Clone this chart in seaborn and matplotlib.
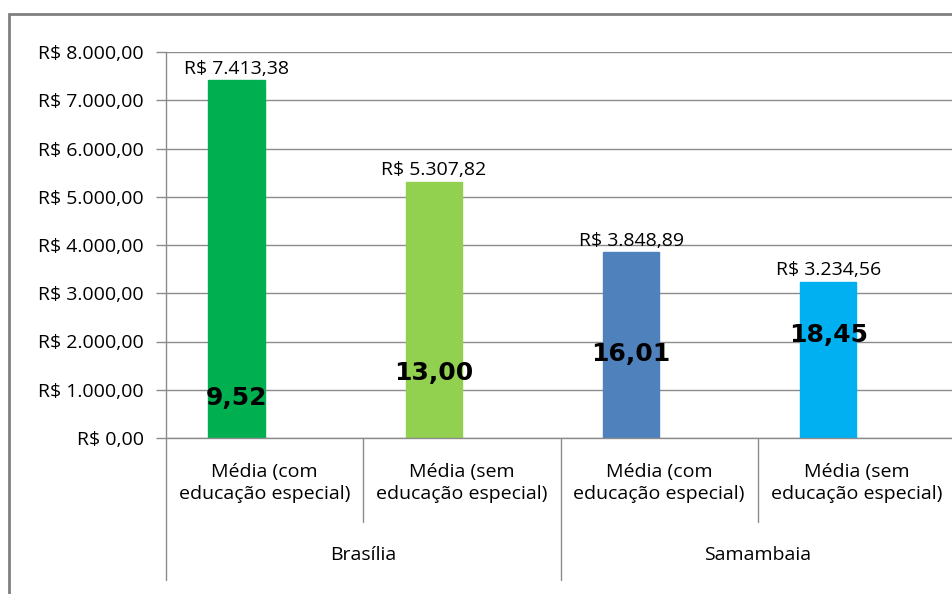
import matplotlib
matplotlib.use("Agg")
import matplotlib.pyplot as plt
from matplotlib.patches import Rectangle
from matplotlib.ticker import FuncFormatter
import matplotlib.transforms as mtransforms
import seaborn as sns
import pandas as pd

# Data
sub_labels = ["Média (com\neducação especial)", "Média (sem\neducação especial)",
              "Média (com\neducação especial)", "Média (sem\neducação especial)"]
groups = ["Brasília", "Samambaia"]
salario = [7413.38, 5307.82, 3848.89, 3234.56]
indice = ["9,52", "13,00", "16,01", "18,45"]
indice_y = [830, 1350, 1740, 2135]  # vertical placement of the index labels (data units)
bar_colors = ["#00B050", "#92D050", "#4F81BD", "#00B0F0"]
yticks = list(range(0, 8001, 1000))

sns.set_theme(style="white")
plt.rcParams["font.family"] = ["Open Sans", "DejaVu Sans"]

W, H = 952, 594
fig = plt.figure(figsize=(W / 100, H / 100), dpi=100)

# plot area in pixel coordinates
left_px, right_px, top_px, bottom_px = 166, 955, 52, 438
ax = fig.add_axes([left_px / W, 1 - bottom_px / H,
                   (right_px - left_px) / W, (bottom_px - top_px) / H])

# clustered columns: the salary series plus an empty companion slot
df = pd.DataFrame({
    "pos": [str(i) for i in range(4)] * 2,
    "valor": salario + [0.0] * 4,
    "serie": ["salario"] * 4 + ["indice"] * 4,
})
sns.barplot(data=df, x="pos", y="valor", hue="serie", dodge=True,
            palette=["#00B050", "white"], width=0.57, legend=False, ax=ax,
            saturation=1)
for patch, c in zip(ax.containers[0], bar_colors):
    patch.set_facecolor(c)
    patch.set_edgecolor(c)
for patch in ax.containers[1]:
    patch.set_visible(False)
sal_x = [p.get_x() + p.get_width() / 2 for p in ax.containers[0]]

FS = 14
grid_c = "#8c8c8c"
ax.set_xlim(-0.5, 3.5)
ax.set_ylim(0, 8000)
ax.set_yticks(yticks)
ax.yaxis.grid(True, color=grid_c, linewidth=1)
ax.set_axisbelow(True)


def brl(v, _pos=None):
    s = f"{v:,.2f}".replace(",", "X").replace(".", ",").replace("X", ".")
    return f"R$ {s}"


ax.yaxis.set_major_formatter(FuncFormatter(brl))
ax.tick_params(axis="y", which="major", left=True, length=7, width=1,
               color=grid_c, labelsize=FS, labelcolor="#000000", pad=9)
ax.tick_params(axis="x", bottom=False, labelbottom=False)
ax.set_xlabel("")
ax.set_ylabel("")
for side in ["top", "right"]:
    ax.spines[side].set_visible(False)
for side in ["left", "bottom"]:
    ax.spines[side].set_color(grid_c)
    ax.spines[side].set_linewidth(1)

# value labels above each bar
for x, v in zip(sal_x, salario):
    ax.annotate(brl(v), (x, v), xytext=(0, 2), textcoords="offset points",
                ha="center", va="bottom", fontsize=FS, color="#000000")

# index labels inside the bars
for x, t, y in zip(sal_x, indice, indice_y):
    ax.text(x, y, t, ha="center", va="center", fontsize=18,
            fontweight="bold", family=["DejaVu Sans"], color="#000000")

# multi-level category axis
axis_h = bottom_px - top_px
trans = mtransforms.blended_transform_factory(ax.transData, ax.transAxes)
sub_end = -(522 - bottom_px) / axis_h
grp_end = -(580 - bottom_px) / axis_h
for x in [0.5, 2.5]:
    ax.plot([x, x], [0, sub_end], transform=trans, color=grid_c,
            linewidth=1, clip_on=False)
for x in [-0.5, 1.5, 3.5]:
    ax.plot([x, x], [0, grp_end], transform=trans, color=grid_c,
            linewidth=1, clip_on=False)
for i, lab in enumerate(sub_labels):
    ax.text(i, -(483 - bottom_px) / axis_h, lab, transform=trans,
            ha="center", va="center", fontsize=FS, color="#000000",
            linespacing=1.25)
for g, lab in enumerate(groups):
    ax.text(2 * g + 0.5, -(555 - bottom_px) / axis_h, lab, transform=trans,
            ha="center", va="center", fontsize=FS, color="#000000")

# outer chart frame
fig.patches.append(Rectangle((9 / W, -0.1), 1.2, 1.1 - 14 / H,
                             transform=fig.transFigure, fill=False,
                             edgecolor="#808080", linewidth=2, clip_on=False))

fig.savefig("out.png", dpi=100, facecolor="white")
